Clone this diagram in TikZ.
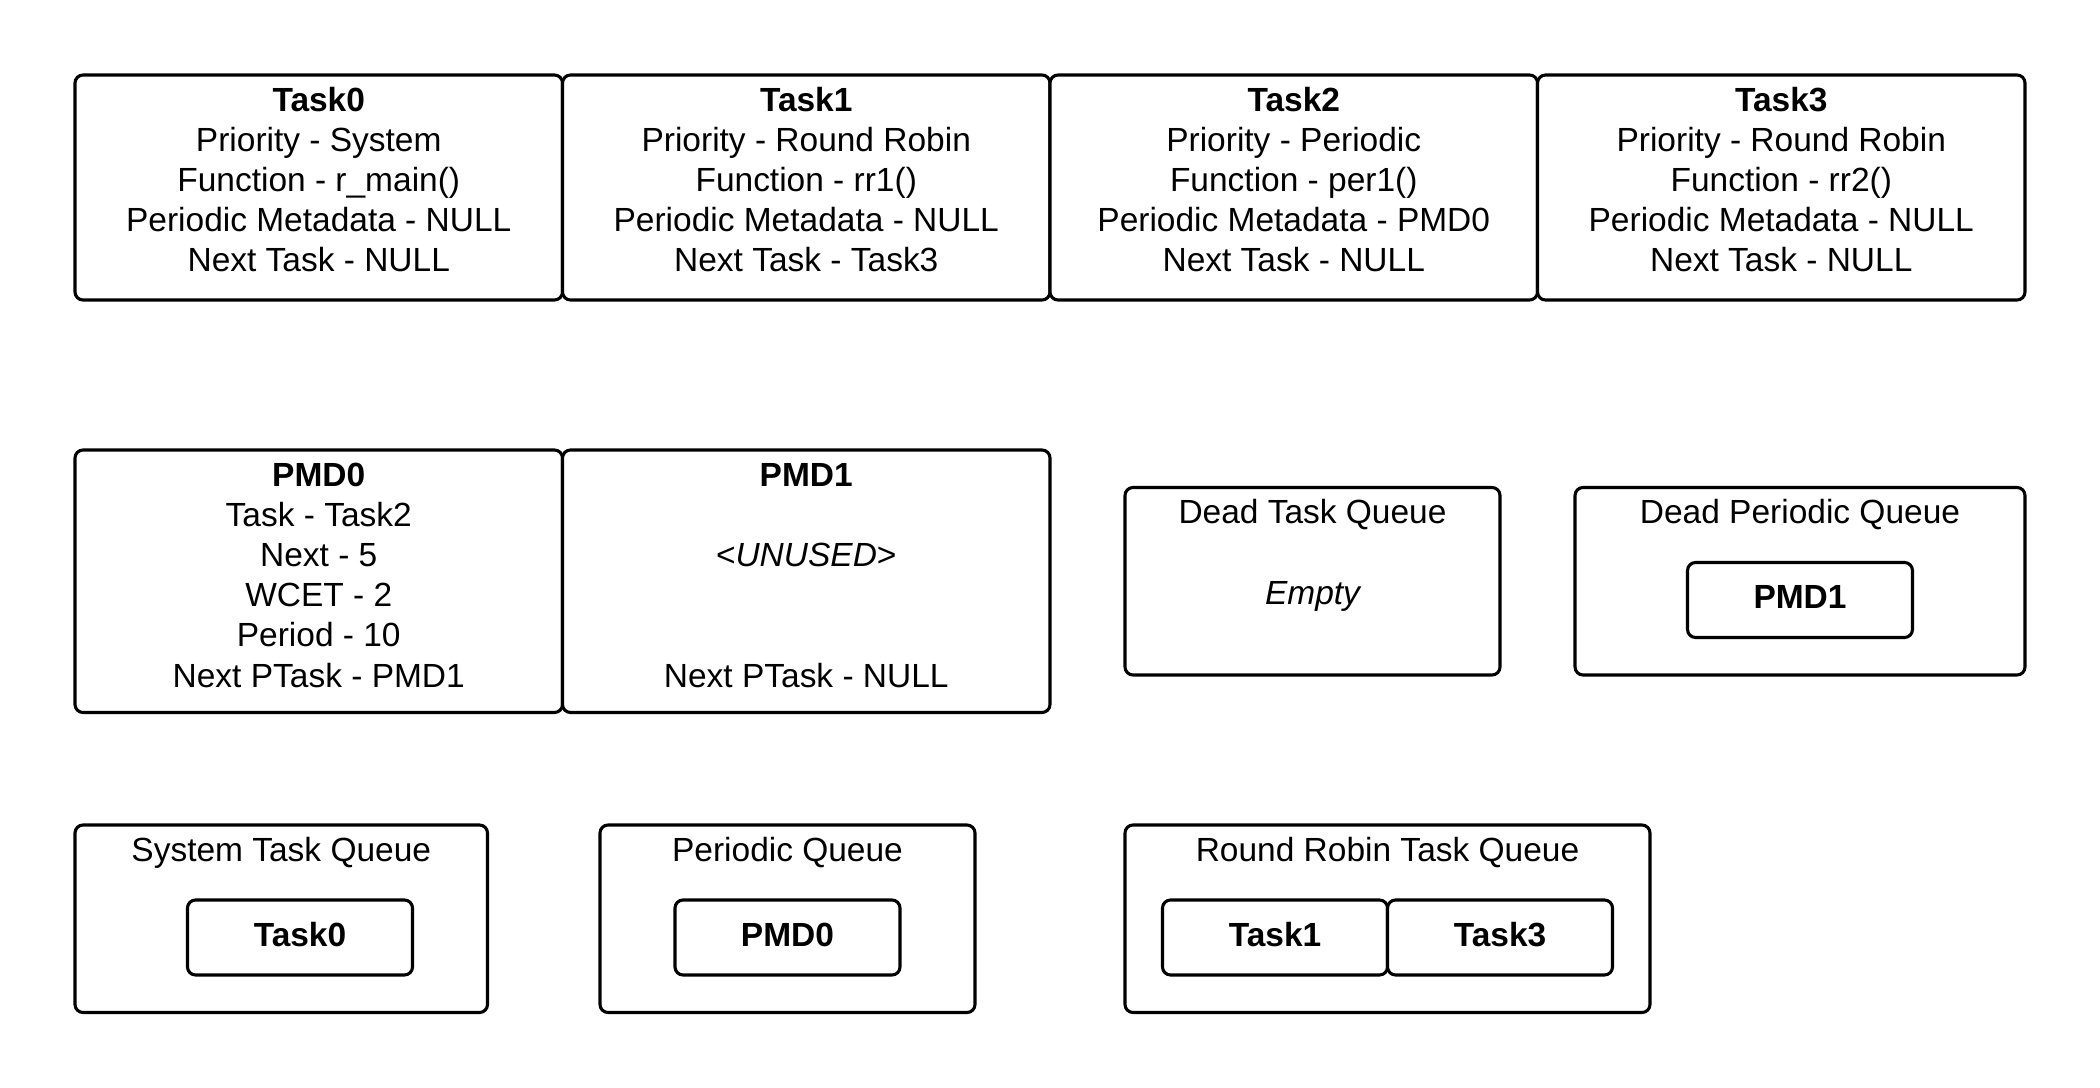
\documentclass[tikz,border=0pt]{standalone}
\usepackage{fontspec}
\setmainfont{Liberation Sans}
\begin{document}
\begin{tikzpicture}[x=0.5pt,y=-0.5pt,
  every node/.style={font=\fontsize{12.5pt}{15pt}\selectfont},
  box/.style={draw=black, line width=1.15pt, rounded corners=3pt, inner sep=0pt, outer sep=0pt, fill=white},
  txt/.style={anchor=base, inner sep=0pt, outer sep=0pt},
  itembox/.style={box, minimum width=84pt, minimum height=28pt, text height=9pt, text depth=2.5pt, font=\fontsize{12.5pt}{15pt}\selectfont\bfseries}
]
\useasboundingbox (0,0) rectangle (1568,812);

% Task boxes
\node[box, minimum width=182pt, minimum height=84pt] (task0) at (238,140) {};
\node[box, minimum width=182pt, minimum height=84pt] (task1) at (602,140) {};
\node[box, minimum width=182pt, minimum height=84pt] (task2) at (966,140) {};
\node[box, minimum width=182pt, minimum height=84pt] (task3) at (1330,140) {};

\node[txt] (t0a) at (238,83) {\bfseries Task0};
\node[txt] (t0b) at (238,113) {Priority - System};
\node[txt] (t0c) at (238,143) {Function - r\_main()};
\node[txt] (t0d) at (238,173) {Periodic Metadata - NULL};
\node[txt] (t0e) at (238,203) {Next Task - NULL};

\node[txt] (t1a) at (602,83) {\bfseries Task1};
\node[txt] (t1b) at (602,113) {Priority - Round Robin};
\node[txt] (t1c) at (602,143) {Function - rr1()};
\node[txt] (t1d) at (602,173) {Periodic Metadata - NULL};
\node[txt] (t1e) at (602,203) {Next Task - Task3};

\node[txt] (t2a) at (966,83) {\bfseries Task2};
\node[txt] (t2b) at (966,113) {Priority - Periodic};
\node[txt] (t2c) at (966,143) {Function - per1()};
\node[txt] (t2d) at (966,173) {Periodic Metadata - PMD0};
\node[txt] (t2e) at (966,203) {Next Task - NULL};

\node[txt] (t3a) at (1330,83) {\bfseries Task3};
\node[txt] (t3b) at (1330,113) {Priority - Round Robin};
\node[txt] (t3c) at (1330,143) {Function - rr2()};
\node[txt] (t3d) at (1330,173) {Periodic Metadata - NULL};
\node[txt] (t3e) at (1330,203) {Next Task - NULL};

% PMD boxes
\node[box, minimum width=182pt, minimum height=98pt] (pmd0) at (238,434) {};
\node[box, minimum width=182pt, minimum height=98pt] (pmd1) at (602,434) {};

\node[txt] (p0a) at (238,363) {\bfseries PMD0};
\node[txt] (p0b) at (238,393) {Task - Task2};
\node[txt] (p0c) at (238,423) {Next - 5};
\node[txt] (p0d) at (238,453) {WCET - 2};
\node[txt] (p0e) at (238,483) {Period - 10};
\node[txt] (p0f) at (238,513) {Next PTask - PMD1};

\node[txt] (p1a) at (602,363) {\bfseries PMD1};
\node[txt] (p1b) at (602,423) {<\itshape UNUSED\upshape>};
\node[txt] (p1c) at (602,513) {Next PTask - NULL};

% Dead queues
\node[box, minimum width=140pt, minimum height=70pt] (deadq) at (980,434) {};
\node[txt] (deadqt) at (980,391) {Dead Task Queue};
\node[txt] (deadqe) at (980,451) {\itshape Empty};

\node[box, minimum width=168pt, minimum height=70pt] (deadp) at (1344,434) {};
\node[txt] (deadpt) at (1344,391) {Dead Periodic Queue};
\node[itembox] (deadpmd1) at (1344,448) {PMD1};

% Bottom queues
\node[box, minimum width=154pt, minimum height=70pt] (sysq) at (210,686) {};
\node[txt] (sysqt) at (210,643) {System Task Queue};
\node[itembox] (systask0) at (224,700) {Task0};

\node[box, minimum width=140pt, minimum height=70pt] (perq) at (588,686) {};
\node[txt] (perqt) at (588,643) {Periodic Queue};
\node[itembox] (perpmd0) at (588,700) {PMD0};

\node[box, minimum width=196pt, minimum height=70pt] (rrq) at (1036,686) {};
\node[txt] (rrqt) at (1036,643) {Round Robin Task Queue};
\node[itembox] (rrtask1) at (952,700) {Task1};
\node[itembox] (rrtask3) at (1120,700) {Task3};
\end{tikzpicture}
\end{document}
